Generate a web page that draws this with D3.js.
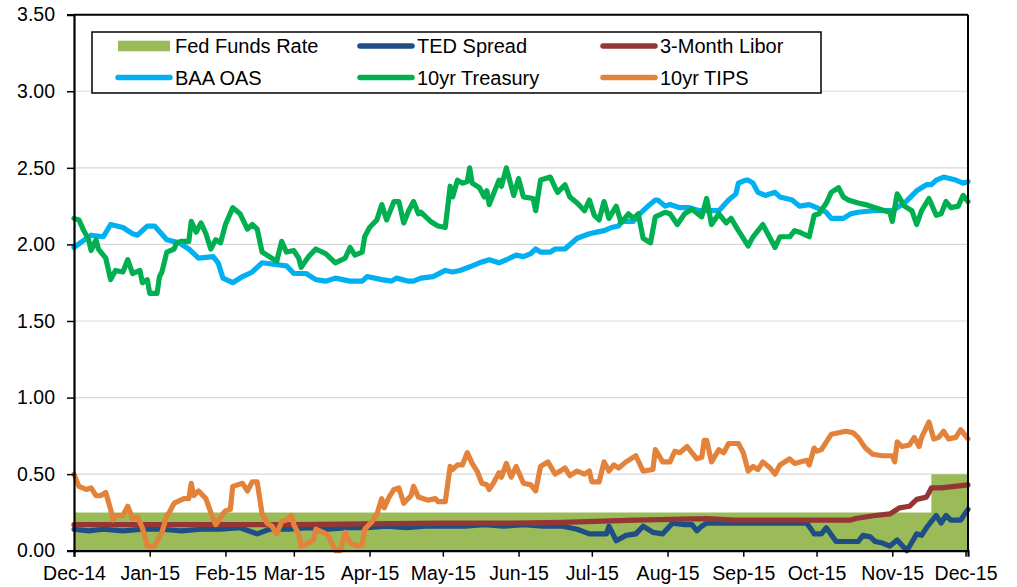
<!DOCTYPE html>
<html>
<head>
<meta charset="utf-8">
<script src="https://cdn.jsdelivr.net/npm/d3@7"></script>
<style>
  body { margin: 0; background: #fff; }
  svg { font-family: "Liberation Sans", Arial, sans-serif; }
</style>
</head>
<body>
<svg id="chart" width="1017" height="587"></svg>
<script>
// data: [days since 1-Dec-2014, value]
const startDate = new Date(2014, 11, 1);
const endDate = new Date(2015, 11, 2);

const yTicks = [0, 0.5, 1.0, 1.5, 2.0, 2.5, 3.0, 3.5];

const seriesNames = ["Fed Funds Rate", "TED Spread", "3-Month Libor", "BAA OAS", "10yr Treasury", "10yr TIPS"];

const fedFunds = [[0, 0.25], [351, 0.50], [366, 0.50]];

const tedSpread = [
  [0, 0.14], [6, 0.13], [12, 0.14], [20, 0.13], [28, 0.14], [36, 0.14], [44, 0.13], [52, 0.14],
  [60, 0.14], [68, 0.15], [75, 0.11], [80, 0.14], [88, 0.14], [96, 0.15], [104, 0.14], [112, 0.15],
  [120, 0.15], [128, 0.16], [136, 0.15], [144, 0.16], [152, 0.16], [160, 0.16], [168, 0.17],
  [176, 0.16], [184, 0.17], [192, 0.16], [200, 0.16], [206, 0.14], [211, 0.11], [218, 0.11],
  [219, 0.16], [222, 0.065], [226, 0.10], [230, 0.11], [233, 0.16], [237, 0.12], [241, 0.11],
  [245, 0.18], [250, 0.17], [253, 0.17], [255, 0.13], [257, 0.16], [259, 0.18], [270, 0.18],
  [280, 0.18], [290, 0.18], [300, 0.18], [302, 0.135], [303, 0.11], [306, 0.11], [308, 0.15],
  [312, 0.06], [321, 0.06], [323, 0.10], [326, 0.09], [328, 0.06], [331, 0.05], [334, 0.03],
  [337, 0.07], [341, 0.00], [345, 0.11], [347, 0.10], [349, 0.15], [353, 0.23], [355, 0.18],
  [357, 0.23], [359, 0.20], [363, 0.20], [366, 0.27]
];

const libor = [
  [0, 0.17], [30, 0.17], [60, 0.17], [90, 0.17], [120, 0.175], [150, 0.18], [180, 0.18],
  [200, 0.185], [230, 0.20], [259, 0.21], [270, 0.20], [290, 0.20], [318, 0.20], [320, 0.21],
  [328, 0.23], [334, 0.24], [338, 0.28], [342, 0.29], [345, 0.335], [349, 0.35], [351, 0.41],
  [355, 0.41], [366, 0.43]
];

const baaOas = [
  [0, 1.98], [7, 2.06], [12, 2.05], [15, 2.13], [20, 2.11], [24, 2.07], [26, 2.06], [30, 2.12],
  [33, 2.12], [38, 2.03], [43, 2.01], [47, 1.97], [51, 1.91], [57, 1.92], [59, 1.88], [61, 1.78],
  [65, 1.75], [69, 1.79], [73, 1.82], [77, 1.88], [87, 1.86], [90, 1.81], [95, 1.81], [99, 1.77],
  [103, 1.76], [107, 1.78], [113, 1.76], [118, 1.76], [120, 1.79], [126, 1.77], [130, 1.76],
  [132, 1.78], [137, 1.76], [139, 1.76], [142, 1.78], [147, 1.79], [152, 1.83], [155, 1.82],
  [158, 1.83], [163, 1.86], [166, 1.88], [170, 1.90], [174, 1.88], [177, 1.90], [181, 1.93],
  [184, 1.92], [187, 1.94], [189, 1.97], [191, 1.95], [195, 1.95], [197, 1.97], [201, 1.97],
  [206, 2.04], [211, 2.07], [214, 2.08], [217, 2.09], [220, 2.11], [223, 2.12], [224, 2.15],
  [229, 2.15], [231, 2.19], [235, 2.25], [238, 2.29], [239, 2.29], [242, 2.25], [244, 2.26],
  [248, 2.24], [252, 2.24], [256, 2.22], [261, 2.22], [264, 2.22], [268, 2.29], [271, 2.33],
  [272, 2.40], [275, 2.42], [276, 2.42], [278, 2.40], [280, 2.34], [283, 2.32], [287, 2.34],
  [289, 2.31], [294, 2.29], [297, 2.25], [301, 2.26], [304, 2.24], [308, 2.21], [310, 2.17],
  [315, 2.17], [318, 2.20], [321, 2.21], [327, 2.22], [335, 2.22], [340, 2.27], [345, 2.35],
  [349, 2.39], [351, 2.39], [353, 2.42], [356, 2.44], [361, 2.42], [364, 2.40], [366, 2.41]
];

const treasury10 = [
  [0, 2.17], [2, 2.16], [4, 2.09], [6, 2.03], [7, 1.96], [9, 2.03], [10, 1.97], [13, 1.91],
  [15, 1.77], [17, 1.83], [20, 1.82], [22, 1.90], [24, 1.81], [27, 1.83], [28, 1.75], [30, 1.77],
  [31, 1.68], [34, 1.68], [35, 1.79], [36, 1.82], [38, 1.95], [41, 1.97], [42, 2.01], [44, 2.02],
  [47, 2.02], [48, 2.15], [50, 2.08], [52, 2.14], [54, 2.07], [56, 1.97], [58, 2.03], [60, 2.01],
  [62, 2.13], [65, 2.24], [68, 2.20], [71, 2.10], [73, 2.13], [75, 2.10], [77, 1.95], [79, 1.93],
  [83, 1.89], [85, 2.02], [87, 1.95], [90, 1.96], [92, 1.91], [93, 1.85], [96, 1.92], [99, 1.97],
  [103, 1.94], [107, 1.88], [111, 1.91], [113, 1.98], [115, 1.93], [118, 1.95], [119, 2.05],
  [121, 2.11], [124, 2.16], [126, 2.26], [128, 2.16], [131, 2.28], [133, 2.28], [135, 2.14],
  [137, 2.22], [139, 2.28], [141, 2.20], [142, 2.21], [146, 2.15], [149, 2.12], [152, 2.11],
  [154, 2.38], [155, 2.31], [157, 2.42], [159, 2.40], [161, 2.41], [162, 2.50], [163, 2.40],
  [166, 2.37], [168, 2.31], [169, 2.35], [170, 2.26], [174, 2.42], [175, 2.38], [177, 2.50],
  [180, 2.32], [182, 2.43], [184, 2.31], [188, 2.30], [189, 2.22], [191, 2.42], [195, 2.44],
  [197, 2.37], [198, 2.34], [201, 2.39], [203, 2.31], [206, 2.27], [209, 2.22], [211, 2.29],
  [213, 2.19], [215, 2.16], [217, 2.28], [219, 2.17], [222, 2.25], [224, 2.14], [227, 2.20],
  [229, 2.17], [231, 2.20], [233, 2.04], [236, 2.01], [238, 2.18], [242, 2.21], [244, 2.20],
  [247, 2.13], [250, 2.20], [253, 2.23], [257, 2.18], [259, 2.30], [261, 2.13], [264, 2.20],
  [267, 2.14], [269, 2.17], [272, 2.09], [276, 1.99], [278, 2.05], [282, 2.13], [285, 2.04],
  [287, 1.98], [289, 2.05], [293, 2.05], [295, 2.09], [297, 2.08], [301, 2.05], [303, 2.19],
  [305, 2.20], [308, 2.27], [310, 2.34], [313, 2.37], [315, 2.31], [317, 2.29], [321, 2.27],
  [324, 2.26], [328, 2.24], [332, 2.22], [334, 2.21], [335, 2.15], [337, 2.33], [340, 2.25],
  [343, 2.22], [345, 2.13], [347, 2.22], [350, 2.30], [353, 2.19], [355, 2.20], [357, 2.28],
  [359, 2.24], [362, 2.25], [364, 2.32], [366, 2.28]
];

const tips10 = [
  [0, 0.50], [2, 0.42], [5, 0.40], [7, 0.41], [9, 0.36], [11, 0.36], [13, 0.38], [15, 0.27],
  [16, 0.20], [17, 0.23], [20, 0.23], [22, 0.29], [24, 0.21], [26, 0.22], [28, 0.15], [30, 0.03],
  [33, 0.03], [35, 0.09], [36, 0.12], [38, 0.23], [39, 0.25], [41, 0.31], [45, 0.34], [47, 0.34],
  [48, 0.44], [49, 0.36], [51, 0.39], [54, 0.34], [56, 0.25], [58, 0.17], [61, 0.24], [62, 0.26],
  [64, 0.27], [65, 0.42], [69, 0.44], [71, 0.39], [73, 0.45], [75, 0.45], [77, 0.24], [79, 0.18],
  [81, 0.16], [83, 0.11], [85, 0.19], [87, 0.20], [89, 0.23], [90, 0.17], [92, 0.11], [93, 0.03],
  [96, 0.05], [98, 0.07], [99, 0.14], [102, 0.12], [104, 0.10], [107, 0.00], [109, 0.00],
  [111, 0.12], [113, 0.05], [116, 0.03], [118, 0.04], [119, 0.14], [122, 0.19], [124, 0.24],
  [126, 0.34], [127, 0.28], [129, 0.35], [131, 0.40], [133, 0.41], [135, 0.31], [138, 0.36],
  [139, 0.42], [141, 0.35], [145, 0.33], [148, 0.34], [149, 0.32], [152, 0.32], [154, 0.55],
  [155, 0.53], [157, 0.56], [159, 0.56], [161, 0.64], [163, 0.57], [165, 0.52], [167, 0.44],
  [169, 0.43], [170, 0.40], [172, 0.45], [174, 0.51], [175, 0.48], [177, 0.57], [179, 0.48],
  [181, 0.55], [184, 0.44], [187, 0.43], [189, 0.39], [191, 0.55], [194, 0.58], [197, 0.50],
  [201, 0.54], [203, 0.49], [206, 0.52], [209, 0.50], [211, 0.52], [212, 0.45], [215, 0.45],
  [217, 0.58], [219, 0.52], [221, 0.56], [223, 0.54], [226, 0.58], [230, 0.62], [233, 0.52],
  [237, 0.53], [238, 0.66], [241, 0.58], [244, 0.58], [246, 0.65], [248, 0.64], [251, 0.68],
  [255, 0.60], [257, 0.61], [258, 0.72], [259, 0.72], [261, 0.58], [264, 0.66], [266, 0.64],
  [268, 0.70], [272, 0.70], [274, 0.64], [276, 0.52], [278, 0.55], [280, 0.53], [282, 0.58],
  [285, 0.54], [287, 0.50], [289, 0.56], [293, 0.60], [295, 0.57], [300, 0.59], [301, 0.56],
  [303, 0.67], [304, 0.65], [306, 0.66], [310, 0.76], [313, 0.77], [316, 0.78], [319, 0.77],
  [321, 0.74], [324, 0.67], [327, 0.63], [331, 0.62], [335, 0.62], [336, 0.58], [337, 0.71],
  [339, 0.68], [342, 0.69], [344, 0.74], [346, 0.68], [347, 0.74], [350, 0.84], [352, 0.73],
  [354, 0.74], [356, 0.78], [358, 0.73], [361, 0.74], [363, 0.79], [366, 0.73]
];

const colors = ["#9BBB59", "#1F4E85", "#943634", "#00B0F0", "#00B050", "#E3823B"];

const svg = d3.select("#chart");
const margin = { left: 74, right: 968, top: 14.7, bottom: 550.7 };

const x = d3.scaleTime().domain([startDate, endDate]).range([margin.left, margin.right]);
const y = d3.scaleLinear().domain([0, 3.5]).range([margin.bottom, margin.top]);
const toDate = d => d3.timeDay.offset(startDate, d);

// gridlines
svg.append("g")
  .selectAll("line")
  .data(yTicks.filter(t => t > 0 && t < 3.5))
  .enter()
  .append("line")
  .attr("x1", margin.left).attr("x2", margin.right)
  .attr("y1", d => y(d)).attr("y2", d => y(d))
  .attr("stroke", "#D9D9D9").attr("stroke-width", 1.2);

// fed funds area
const area = d3.area()
  .curve(d3.curveStepAfter)
  .x(d => x(toDate(d[0])))
  .y0(y(0))
  .y1(d => y(d[1]));
svg.append("path").datum(fedFunds).attr("d", area).attr("fill", colors[0]);

const line = d3.line()
  .x(d => x(toDate(d[0])))
  .y(d => y(d[1]))
  .curve(d3.curveLinear);

const lineSeries = [tedSpread, libor, baaOas, treasury10, tips10];
lineSeries.forEach((s, i) => {
  svg.append("path")
    .datum(s)
    .attr("d", line)
    .attr("fill", "none")
    .attr("stroke", colors[i + 1])
    .attr("stroke-width", 5.2)
    .attr("stroke-linejoin", "round")
    .attr("stroke-linecap", "round");
});

// frame
svg.append("line")
  .attr("x1", margin.left).attr("x2", margin.right)
  .attr("y1", margin.top).attr("y2", margin.top)
  .attr("stroke", "#000").attr("stroke-width", 2);
svg.append("line")
  .attr("x1", margin.right).attr("x2", margin.right)
  .attr("y1", margin.top).attr("y2", margin.bottom)
  .attr("stroke", "#000").attr("stroke-width", 2);

// axes
const yAxis = d3.axisLeft(y)
  .tickValues(yTicks)
  .tickFormat(d3.format(".2f"))
  .tickSizeOuter(0)
  .tickSize(7)
  .tickPadding(12);
const gy = svg.append("g").attr("transform", `translate(${margin.left},0)`).call(yAxis);

const xAxis = d3.axisBottom(x)
  .ticks(d3.timeMonth.every(1))
  .tickFormat(d3.timeFormat("%b-%y"))
  .tickSizeOuter(0)
  .tickSize(6)
  .tickPadding(9);
const gx = svg.append("g").attr("transform", `translate(0,${margin.bottom})`).call(xAxis);

[gx, gy].forEach(g => {
  g.select(".domain").attr("stroke", "#000").attr("stroke-width", 2.2);
  g.selectAll(".tick line").attr("stroke", "#000").attr("stroke-width", 1.5);
  g.selectAll("text").attr("font-size", 19.5).attr("fill", "#000")
    .attr("font-family", "'Liberation Sans', Arial, sans-serif");
});

// legend
const legend = svg.append("g");
legend.append("rect")
  .attr("x", 92).attr("y", 32).attr("width", 729).attr("height", 61)
  .attr("fill", "#fff").attr("stroke", "#000").attr("stroke-width", 1.5);

const colX = [116, 358, 601];
const rowY = [46, 77.5];
seriesNames.forEach((name, i) => {
  const cx = colX[i % 3];
  const cy = rowY[Math.floor(i / 3)];
  if (i === 0) {
    legend.append("rect")
      .attr("x", cx + 2).attr("y", cy - 5.3).attr("width", 52).attr("height", 10.6)
      .attr("fill", colors[0]);
  } else {
    legend.append("line")
      .attr("x1", cx + 2).attr("x2", cx + 54)
      .attr("y1", cy).attr("y2", cy)
      .attr("stroke", colors[i]).attr("stroke-width", 5.5)
      .attr("stroke-linecap", "round");
  }
  legend.append("text")
    .attr("x", cx + 59).attr("y", cy)
    .attr("dy", "0.35em")
    .attr("font-size", 20)
    .attr("fill", "#000")
    .text(name);
});
</script>
</body>
</html>
